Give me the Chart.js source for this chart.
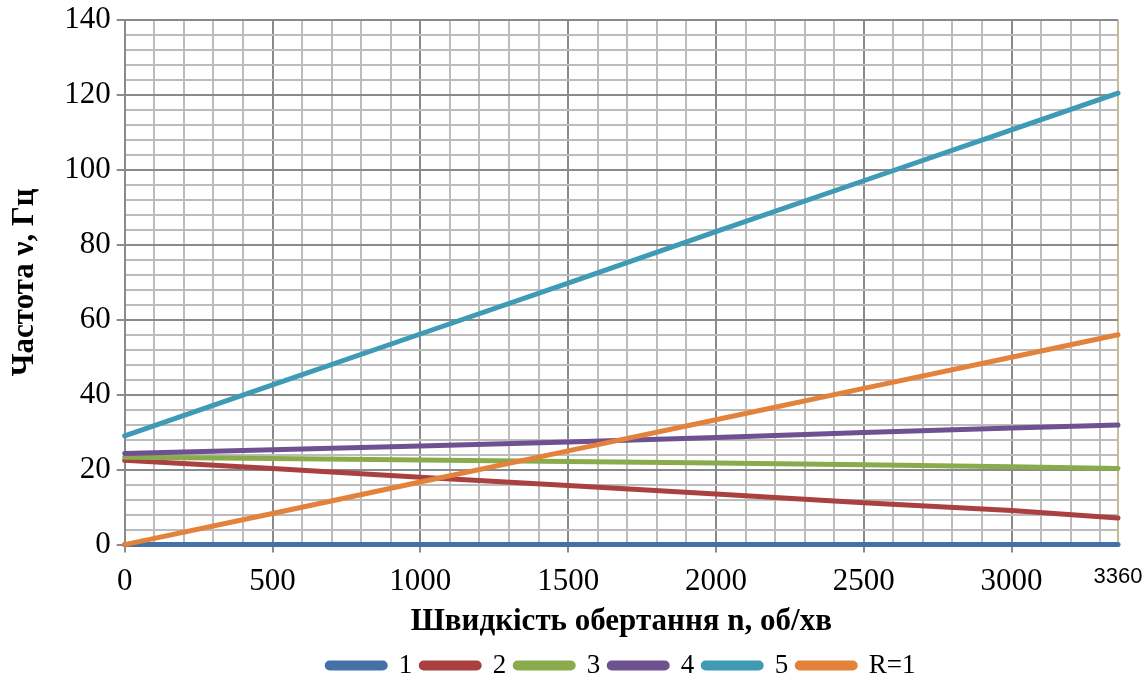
<!DOCTYPE html>
<html>
<head>
<meta charset="utf-8">
<script src="https://cdn.jsdelivr.net/npm/chart.js@4.4.1/dist/chart.umd.min.js"></script>
<style>
  html, body { margin: 0; padding: 0; background: #fff; }
  #wrap { width: 1144px; height: 684px; }
</style>
</head>
<body>
<div id="wrap"><canvas id="chart"></canvas></div>
<script>
// n, об/хв
const speeds = [0, 500, 1000, 1500, 2000, 2500, 3000, 3360];
// частота, Гц
const curve1 = [0, 0, 0, 0, 0, 0, 0, 0];
const curve2 = [22.5, 20.3, 18.0, 15.8, 13.5, 11.2, 9.1, 7.1];
const curve3 = [23.3, 23.0, 22.6, 22.2, 21.8, 21.3, 20.8, 20.3];
const curve4 = [24.3, 25.3, 26.3, 27.4, 28.6, 29.9, 31.1, 31.9];
const curve5 = [29.0, 42.6, 56.2, 69.8, 83.5, 97.1, 110.7, 120.5];
const curveR1 = [0, 8.3, 16.7, 25.0, 33.3, 41.7, 50.0, 56.0];

const seriesNames = ['1', '2', '3', '4', '5', 'R=1'];
const seriesValues = [curve1, curve2, curve3, curve4, curve5, curveR1];
const seriesColors = ['#4472a8', '#aa4140', '#8aab4b', '#6e5190', '#3f9bb5', '#e3823a'];

const xMax = 3360;
const yMax = 140;

const serif = "'Liberation Serif', 'Times New Roman', serif";

const datasets = seriesValues.map((vals, i) => ({
    label: seriesNames[i],
    data: speeds.map((n, k) => ({ x: n, y: vals[k] })),
    borderColor: seriesColors[i],
    backgroundColor: seriesColors[i],
    borderWidth: 5,
    borderCapStyle: 'round',
    pointRadius: 0,
    showLine: true,
    clip: false,
    order: seriesValues.length - i   // last series drawn on top
}));

function gridColor(ctx, step) {
    const v = ctx.tick ? ctx.tick.value : 0;
    if (v === xMax && step === 500) return '#c4bd97';
    return v % step === 0 ? '#8a8a8a' : '#bcbcbc';
}

new Chart(document.getElementById('chart'), {
    type: 'scatter',
    data: { datasets },
    options: {
        responsive: true,
        maintainAspectRatio: false,
        animation: false,
        layout: { padding: { top: 0, right: 0, left: 6, bottom: -5 } },
        scales: {
            x: {
                type: 'linear',
                min: 0,
                max: xMax,
                afterBuildTicks: axis => {
                    const t = [];
                    for (let v = 0; v < xMax; v += 100) t.push({ value: v });
                    t.push({ value: xMax });
                    axis.ticks = t;
                },
                afterFit: axis => {
                    axis.paddingRight = 26;
                    axis.height -= 8;
                },
                grid: {
                    color: ctx => gridColor(ctx, 500),
                    lineWidth: 2,
                    tickLength: 8,
                    tickColor: ctx => (ctx.tick && ctx.tick.value % 500 === 0) ? '#8a8a8a' : 'rgba(0,0,0,0)'
                },
                border: { color: '#8a8a8a', width: 2 },
                ticks: {
                    autoSkip: false,
                    maxRotation: 0,
                    padding: 11,
                    color: '#000',
                    font: ctx => (ctx.tick && ctx.tick.value === xMax)
                        ? { family: "'Liberation Sans', Arial, sans-serif", size: 22 }
                        : { family: serif, size: 31 },
                    callback: v => (v % 500 === 0 || v === xMax) ? String(v) : ''
                },
                title: {
                    display: true,
                    text: 'Швидкість обертання n, об/хв',
                    color: '#000',
                    font: { family: serif, size: 31, weight: 'bold' },
                    padding: { top: 0, bottom: 2 }
                }
            },
            y: {
                min: 0,
                max: yMax,
                afterFit: axis => {
                    axis.paddingTop = 20;
                },
                ticks: {
                    stepSize: 4,
                    autoSkip: false,
                    padding: 6,
                    color: '#000',
                    font: { family: serif, size: 31 },
                    callback: v => (v % 20 === 0) ? String(v) : ''
                },
                grid: {
                    color: ctx => gridColor(ctx, 20),
                    lineWidth: 2,
                    tickLength: 8,
                    tickColor: ctx => (ctx.tick && ctx.tick.value % 20 === 0) ? '#8a8a8a' : 'rgba(0,0,0,0)'
                },
                border: { color: '#8a8a8a', width: 2 },
                title: {
                    display: true,
                    text: 'Частота ν, Гц',
                    color: '#000',
                    font: { family: serif, size: 31, weight: 'bold' },
                    padding: { top: 0, bottom: 15 }
                }
            }
        },
        plugins: {
            legend: {
                position: 'bottom',
                fullSize: false,
                labels: {
                    boxWidth: 58,
                    boxHeight: 5,
                    useBorderRadius: true,
                    borderRadius: 2.5,
                    padding: 9,
                    color: '#000',
                    font: { family: serif, size: 27 },
                    sort: (a, b) => a.datasetIndex - b.datasetIndex
                }
            },
            tooltip: { enabled: false }
        }
    }
});
</script>
</body>
</html>
